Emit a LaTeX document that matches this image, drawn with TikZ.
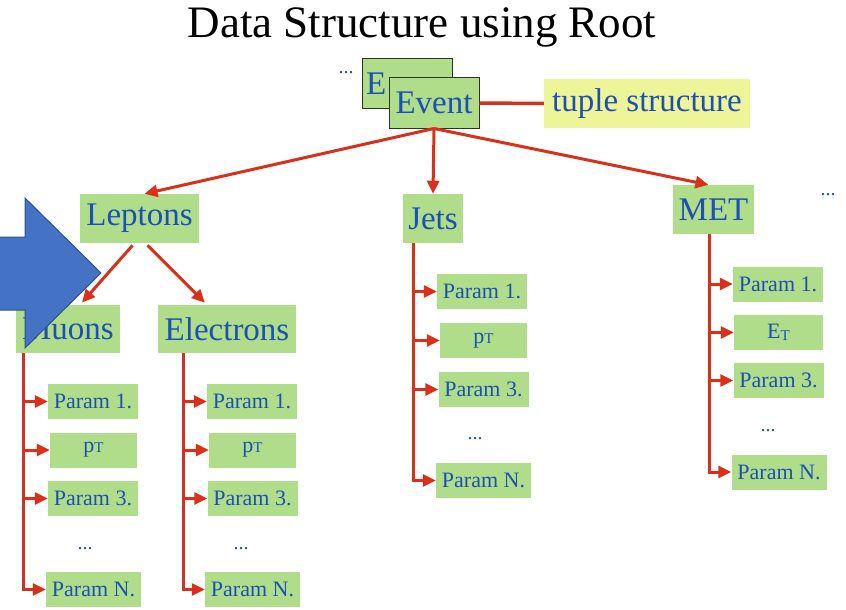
\documentclass[tikz,border=0pt]{standalone}
\usepackage{fontspec}
\setmainfont{Liberation Serif}
\usetikzlibrary{arrows.meta}
\definecolor{boxgreen}{RGB}{176,221,137}
\definecolor{boxedge}{RGB}{40,55,30}
\definecolor{txtblue}{RGB}{28,80,182}
\definecolor{linkred}{RGB}{218,48,26}
\definecolor{tupleyellow}{RGB}{238,244,152}
\definecolor{bigblue}{RGB}{68,114,196}
\definecolor{bigblueedge}{RGB}{47,82,143}
\newcommand{\pT}{p{\fontsize{15}{15}\selectfont T}}
\newcommand{\ET}{E\raisebox{-2pt}{\fontsize{15}{15}\selectfont T}}
\begin{document}
\begin{tikzpicture}[x=1pt,y=-1pt,
  bigbox/.style={fill=boxgreen,text=txtblue,inner sep=0pt,minimum height=49pt,
    font=\fontsize{33}{33}\selectfont},
  evbox/.style={bigbox,draw=boxedge,line width=1pt,minimum width=90pt,minimum height=50pt},
  parbox/.style={fill=boxgreen,text=txtblue,inner sep=0pt,minimum width=90pt,
    minimum height=35pt,font=\fontsize{22}{22}\selectfont},
  dots/.style={text=txtblue,inner sep=0pt,font=\fontsize{20}{20}\selectfont},
  link/.style={draw=linkred,line width=3pt},
  arr/.style={link,-{Triangle[length=13pt,width=12pt]}},
  spine/.style={link,-{Triangle[length=13pt,width=12pt]}}]
\useasboundingbox (0,0) rectangle (846,610);

% title
\node[inner sep=0pt,font=\fontsize{45}{45}\selectfont] (title) at (422,27) {Data Structure using Root};

% event stack and tuple label
\node[dots] (evdots) at (346,73) {...};
\node[evbox,text width=82pt,inner xsep=4pt,align=left] (evback) at (407,83.5) {E};
\node[evbox] (ev) at (434,103) {Event};
\node[bigbox,fill=tupleyellow,minimum width=206pt] (tup) at (647,103.5) {tuple structure};
\draw[link,line width=3.5pt] (ev.east) -- (tup.west);

% first level
\node[bigbox,minimum width=119pt] (lep) at (139.5,218.5) {Leptons};
\node[bigbox,minimum width=60pt] (jets) at (433,218.5) {Jets};
\node[bigbox,minimum width=81pt] (met) at (713.5,209.5) {MET};
\node[dots] (metdots) at (828,195) {...};

\draw[arr] (ev.south) -- ([xshift=5pt]lep.north);
\draw[arr] (ev.south) -- (jets.north);
\draw[arr] (ev.south) -- ([xshift=-5pt]met.north);

% second level under leptons
\node[bigbox,minimum width=104pt,minimum height=48pt] (mu) at (68,329) {Muons};
\node[bigbox,minimum width=138pt,minimum height=48pt] (el) at (227,329) {Electrons};
\draw[arr,shorten <=3pt,shorten >=3pt] ([xshift=-5pt]lep.south) -- ([xshift=12pt]mu.north);
\draw[arr,shorten <=3pt,shorten >=3pt] ([xshift=6pt]lep.south) -- ([xshift=-20pt]el.north);

% muon parameters
\node[parbox] (mu1) at (93,401.5) {Param 1.};
\node[parbox,minimum width=87pt] (mu2) at (93.5,450) {\pT};
\node[parbox] (mu3) at (93,498.5) {Param 3.};
\node[dots] (mud) at (85,549) {...};
\node[parbox,minimum width=95pt] (muN) at (93.5,589.5) {Param N.};
\coordinate (musp) at (23,353);
\foreach \t in {mu1,mu2,mu3,muN} \draw[spine] (musp) |- (\t.west);

% electron parameters
\node[parbox] (el1) at (252,401.5) {Param 1.};
\node[parbox,minimum width=87pt] (el2) at (252.5,450) {\pT};
\node[parbox] (el3) at (252.5,498.5) {Param 3.};
\node[dots] (eld) at (241,549) {...};
\node[parbox,minimum width=95pt] (elN) at (252.5,589.5) {Param N.};
\coordinate (elsp) at (183,353);
\foreach \t in {el1,el2,el3,elN} \draw[spine] (elsp) |- (\t.west);

% jet parameters
\node[parbox] (je1) at (482,291.5) {Param 1.};
\node[parbox,minimum width=87pt] (je2) at (483.5,340.5) {\pT};
\node[parbox] (je3) at (483.5,389.5) {Param 3.};
\node[dots] (jed) at (475,439) {...};
\node[parbox,minimum width=95pt] (jeN) at (483.5,480.5) {Param N.};
\coordinate (jesp) at (413,243);
\foreach \t in {je1,je2,je3,jeN} \draw[spine] (jesp) |- (\t.west);

% missing transverse energy parameters
\node[parbox] (me1) at (778,284) {Param 1.};
\node[parbox,minimum width=89pt] (me2) at (778.5,332.5) {\ET};
\node[parbox] (me3) at (778.5,380.5) {Param 3.};
\node[dots] (med) at (768,431) {...};
\node[parbox,minimum width=95pt] (meN) at (779,472) {Param N.};
\coordinate (mesp) at (709,234);
\foreach \t in {me1,me2,me3,meN} \draw[spine] (mesp) |- (\t.west);

% large block arrow on the left
\draw[fill=bigblue,draw=bigblueedge,line width=1pt,line join=miter]
  (-3,237) -- (25,237) -- (25,198) -- (101,273) -- (25,348) -- (25,310) -- (-3,310) -- cycle;
\end{tikzpicture}
\end{document}
